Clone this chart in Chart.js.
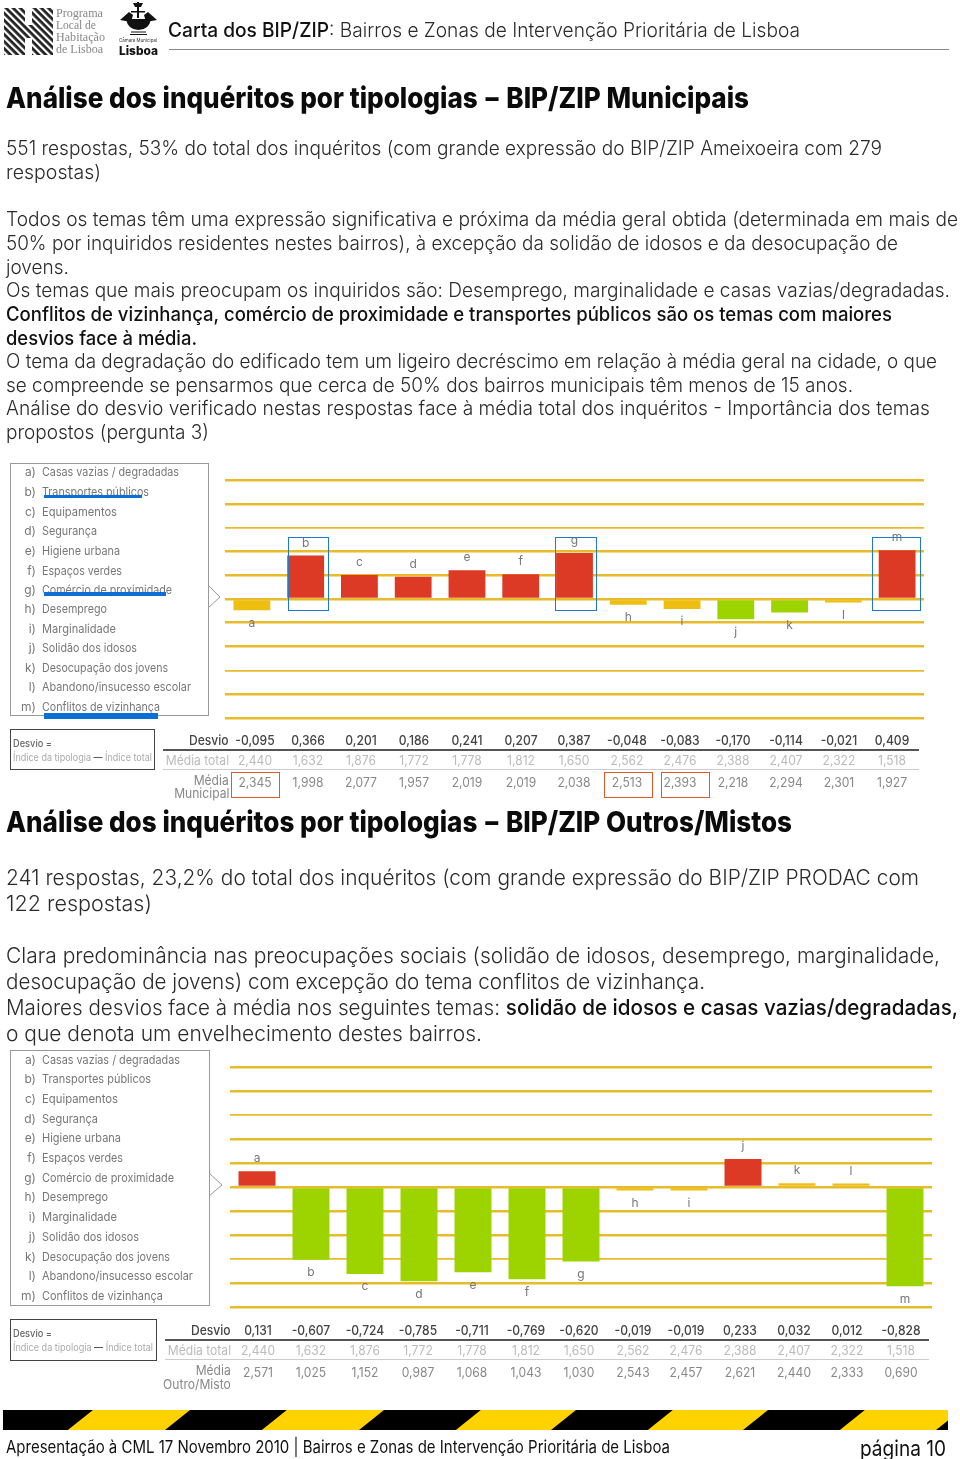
<!DOCTYPE html>
<html lang="pt"><head><meta charset="utf-8">
<style>
html,body{margin:0;padding:0;background:#fff}
#page{position:relative;width:960px;height:1459px;overflow:hidden;font-family:Inter,sans-serif;color:#2b2b2b}
.t{position:absolute;white-space:nowrap;transform-origin:left center;line-height:1}
.r{position:absolute}
canvas{position:absolute}
svg{position:absolute;left:0;top:0}
b{font-weight:450;color:#111}
</style></head><body><div id="page">
<canvas id="c1" width="699" height="258" style="left:225px;top:470px"></canvas>
<canvas id="c2" width="702" height="260" style="left:230px;top:1057px"></canvas>
<svg id="art" width="960" height="1459"></svg>
</div>
<script src="https://cdn.jsdelivr.net/npm/chart.js@4/dist/chart.umd.js"></script>
<script>
const letters=["a","b","c","d","e","f","g","h","i","j","k","l","m"];
const themes=["Casas vazias / degradadas","Transportes públicos","Equipamentos","Segurança","Higiene urbana","Espaços verdes","Comércio de proximidade","Desemprego","Marginalidade","Solidão dos idosos","Desocupação dos jovens","Abandono/insucesso escolar","Conflitos de vizinhança"];
const mediaTotal=[2.440,1.632,1.876,1.772,1.778,1.812,1.650,2.562,2.476,2.388,2.407,2.322,1.518];
const desvioMunicipal=[-0.095,0.366,0.201,0.186,0.241,0.207,0.387,-0.048,-0.083,-0.170,-0.114,-0.021,0.409];
const mediaMunicipal=[2.345,1.998,2.077,1.957,2.019,2.019,2.038,2.513,2.393,2.218,2.294,2.301,1.927];
const desvioOutros=[0.131,-0.607,-0.724,-0.785,-0.711,-0.769,-0.620,-0.019,-0.019,0.233,0.032,0.012,-0.828];
const mediaOutros=[2.571,1.025,1.152,0.987,1.068,1.043,1.030,2.543,2.457,2.621,2.440,2.333,0.690];

const page=document.getElementById('page');
function put(html,x,y,right,size,o={}){
  const d=document.createElement('div');d.className='t';d.innerHTML=html;
  d.style.cssText=`left:${x}px;top:${y}px;font-size:${size}px;font-weight:${o.w||300};color:${o.c||'#2b2b2b'};font-family:${o.f||'Inter,sans-serif'}`;
  page.appendChild(d);
  const w=d.getBoundingClientRect().width;
  d.style.transform=`translateY(-50%) scaleX(${(right-x)/w})`;
  return d;
}
function mid(html,cx,y,size,c,w){
  const d=document.createElement('div');d.className='t';d.textContent=html;
  d.style.cssText=`left:${cx}px;top:${y}px;font-size:${size}px;font-weight:${w||400};color:${c};font-family:Inter,sans-serif;transform-origin:center;transform:translate(-50%,-50%) scaleX(.93)`;
  page.appendChild(d);
}
function endR(html,rx,y,size,c,w){
  const d=document.createElement('div');d.className='t';d.textContent=html;
  d.style.cssText=`right:${960-rx}px;top:${y}px;font-size:${size}px;font-weight:${w||400};color:${c};font-family:Inter,sans-serif;transform-origin:right center;transform:translateY(-50%) scaleX(.93)`;
  page.appendChild(d);
}
function rect(x,y,w,h,st){
  const d=document.createElement('div');d.className='r';
  d.style.cssText=`left:${x}px;top:${y}px;width:${w}px;height:${h}px;box-sizing:border-box;${st}`;
  page.appendChild(d);
}
// header
put('<b style="font-weight:500">Carta dos BIP/ZIP</b>: Bairros e Zonas de Intervenção Prioritária de Lisboa',168,30,800,20,{w:300});
rect(169,49,780,1,'background:#888');
["Programa","Local de","Habitação","de Lisboa"].forEach((s,i)=>put(s,56,[14,26,38,50][i],[103,96,105,103][i],11.5,{w:400,c:'#888',f:'"Liberation Serif",serif'}));
put('Câmara Municipal',119,40,157,5,{w:400,c:'#333'});
put('Lisboa',119,51,158,12,{w:800,c:'#111'});

// section 1 text
const H=800;
const dash='<span style="margin:0 .3em">–</span>';
put('Análise dos inquéritos por tipologias'+dash+'BIP/ZIP Municipais',6,97,749,29,{w:H,c:'#0b0b0b'});
const s1=[["551 respostas, 53% do total dos inquéritos (com grande expressão do BIP/ZIP Ameixoeira com 279",149,882],
["respostas)",173,101],
["Todos os temas têm uma expressão significativa e próxima da média geral obtida (determinada em mais de",220,958],
["50% por inquiridos residentes nestes bairros), à excepção da solidão de idosos e da desocupação de",244,898],
["jovens.",268,69],
["Os temas que mais preocupam os inquiridos são: Desemprego, marginalidade e casas vazias/degradadas.",291,950],
["<b>Conflitos de vizinhança, comércio de proximidade e transportes públicos são os temas com maiores</b>",315,892],
["<b>desvios face à média.</b>",339,197],
["O tema da degradação do edificado tem um ligeiro decréscimo em relação à média geral na cidade, o que",362,937],
["se compreende se pensarmos que cerca de 50% dos bairros municipais têm menos de 15 anos.",386,853],
["Análise do desvio verificado nestas respostas face à média total dos inquéritos - Importância dos temas",409,930],
["propostos (pergunta 3)",433,209]];
s1.forEach(l=>put(l[0],6,l[1],l[2],19.5));
// section 2 text
put('Análise dos inquéritos por tipologias'+dash+'BIP/ZIP Outros/Mistos',6,821,792,29,{w:H,c:'#0b0b0b'});
const s2=[["241 respostas, 23,2% do total dos inquéritos (com grande expressão do BIP/ZIP PRODAC com",878,919],
["122 respostas)",904,152],
["Clara predominância nas preocupações sociais (solidão de idosos, desemprego, marginalidade,",956,940],
["desocupação de jovens) com excepção do tema conflitos de vizinhança.",982,705],
["Maiores desvios face à média nos seguintes temas: <b>solidão de idosos e casas vazias/degradadas,</b>",1008,958],
["o que denota um envelhecimento destes bairros.",1034,482]];
s2.forEach(l=>put(l[0],6,l[1],l[2],21.5));
// footer
put('Apresentação à CML 17 Novembro 2010 | Bairros e Zonas de Intervenção Prioritária de Lisboa',6,1447,670,17,{w:400,c:'#111'});
put('página 10',860,1448,946,22,{w:400,c:'#111'});

// legends
function legend(x,y,w,h,ys,rights){
  rect(x,y,w,h,'border:1px solid #999');
  themes.forEach((s,i)=>{
    const lab=letters[i]+')';
    const d=document.createElement('div');d.className='t';d.textContent=lab;
    d.style.cssText=`right:${960-x-26}px;top:${ys[i]}px;font-size:12px;font-weight:400;color:#777;transform:translateY(-50%)`;
    page.appendChild(d);
    put(s,x+32,ys[i],rights[i],12,{w:400,c:'#777'});
  });
}
legend(10,463,199,253,[472,492,512,531,551,571,590,609,629,648,668,687,707],[179,149,117,97,120,122,172,107,116,137,168,191,160]);
legend(10,1050,200,256,[1060,1079,1099,1119,1138,1158,1178,1197,1217,1237,1257,1276,1296],[180,151,118,98,121,123,174,108,117,139,170,193,163]);
// blue strikes
[[44,494.6,98,3.5],[44,592,122,3.5],[44,713,114,5.5]].forEach(a=>rect(a[0],a[1],a[2],a[3],'background:#0b6fd6'));
// blue highlight boxes
[[287.5,41],[555,42],[871.5,49]].forEach(a=>rect(a[0],536.5,a[1],74.5,'border:1.5px solid #1f78c8'));
// orange highlight boxes
[[231,48.5],[604,49],[660.5,49.5]].forEach(a=>rect(a[0],772,a[1],25.5,'border:1.5px solid #e0592a'));
// formula boxes
function formula(x,y,w,h,yy,r){
  rect(x,y,w,h,'border:1.5px solid #444');
  put('Desvio =',x+3,yy,x+42,10,{w:500,c:'#666'});
  put('Índice da tipologia <span style="color:#333">—</span> Índice total',x+3,yy+14,r,10,{w:400,c:'#aaa'});
}
formula(10,729,145,41,743,152);
formula(10,1319,147,42,1333,153);

// tables
const fmt=v=>v.toFixed(3).replace('.',',');
function table(c0,step,ys,rows,headR,lineL,lineR,l1,l2,lab){
  rect(lineL,l1,lineR-lineL,1.5,'background:#555');
  rect(lineL,l2,lineR-lineL,1,'background:#ccc');
  rows[0].forEach((v,i)=>mid(fmt(v),c0+step*i,ys[0],13,'#444',450));
  rows[1].forEach((v,i)=>mid(fmt(v),c0+step*i,ys[1],13,'#bbb',400));
  rows[2].forEach((v,i)=>mid(fmt(v),c0+step*i,ys[2],13,'#888',400));
  endR('Desvio',headR,ys[0],13,'#444',450);
  endR('Média total',headR,ys[1],13,'#bbb',400);
  endR('Média',headR,lab[0],13,'#888',400);
  endR(lab[2],headR,lab[1],13,'#888',400);
}
table(255,53.1,[739.5,760,781.5],[desvioMunicipal,mediaTotal,mediaMunicipal],229,163,919,749,769,[780,793,'Municipal']);
table(257.5,53.6,[1330,1350,1372],[desvioOutros,mediaTotal,mediaOutros],231,165,929,1339,1359,[1370,1384,'Outro/Misto']);

// svg art: callouts, stripes, logos
const art=document.getElementById('art');
let svg='';
svg+=`<polygon points="208,585 220,597 208,608" fill="#fff" stroke="none"/><polyline points="208,585 220,597 208,608" fill="none" stroke="#999" stroke-width="1"/>`;
svg+=`<polygon points="209,1173 222,1185 209,1196" fill="#fff" stroke="none"/><polyline points="209,1173 222,1185 209,1196" fill="none" stroke="#999" stroke-width="1"/>`;
svg+=`<defs><clipPath id="band"><rect x="3" y="1410" width="945" height="20"/></clipPath>
<clipPath id="hshape"><path d="M4 8H25V25H32V8H53V55H32V38H25V55H4Z"/></clipPath>
<pattern id="st" width="5" height="5" patternUnits="userSpaceOnUse" patternTransform="rotate(45)"><rect width="5" height="5" fill="#fff"/><rect width="5" height="2.8" fill="#222"/></pattern></defs>`;
svg+=`<g clip-path="url(#band)"><rect x="3" y="1410" width="945" height="20" fill="#ffd200"/>`;
[-4,190,384,576,768,961].forEach(e=>{svg+=`<polygon points="${e},1410 ${e+(e<0?97:96.8)},1410 ${e+71.8},1430 ${e-25},1430" fill="#000"/>`;});
svg+=`</g>`;
svg+=`<rect x="4" y="8" width="49" height="47" fill="url(#st)" clip-path="url(#hshape)"/>`;
// crest
svg+=`<g fill="#111"><rect x="137" y="2" width="2" height="16"/><path d="M133 3H143L141 7H135Z"/><rect x="131" y="11" width="14" height="1.5"/>
<path d="M120 20L129 12L133 15L131 22Z"/><path d="M157 20L148 12L144 15L146 22Z"/>
<path d="M126 19H151Q149 30 138.5 30Q128 30 126 19Z"/><rect x="131" y="31.5" width="15" height="1"/><rect x="130" y="34" width="17" height="1"/></g>`;
art.innerHTML=svg;

// charts
const barColor=v=>Math.abs(v)<0.1?'#eebf10':(v>0?'#dd3a25':'#9dd400');
const labelPlugin={id:'letters',afterDatasetsDraw(ch){
  const g=ch.ctx,meta=ch.getDatasetMeta(0);
  g.save();g.font='12px Inter,sans-serif';g.fillStyle='#777';g.textAlign='center';g.textBaseline='middle';
  meta.data.forEach((el,i)=>{
    const v=ch.data.datasets[0].data[i];
    g.fillText(letters[i],el.x,v>=0?el.y-12.5:el.y+13);
  });
  g.restore();
}};
function draw(id,values){
  new Chart(document.getElementById(id),{type:'bar',
    data:{labels:letters,datasets:[{data:values,backgroundColor:values.map(barColor),barPercentage:.685,categoryPercentage:1,minBarLength:3.5}]},
    plugins:[labelPlugin],
    options:{responsive:false,animation:false,
      layout:{padding:{top:10,bottom:10,left:0,right:0}},
      plugins:{legend:{display:false},tooltip:{enabled:false}},
      scales:{
        x:{display:false},
        y:{min:-1,max:1,ticks:{display:false,stepSize:.2},border:{display:false},
           grid:{drawTicks:false,color:'#e8bb2a',lineWidth:c=>Math.abs(Math.abs(c.tick.value)-.6)<.01?1.8:2.6}}
      }}});
}
draw('c1',desvioMunicipal);
draw('c2',desvioOutros);
</script></body></html>
